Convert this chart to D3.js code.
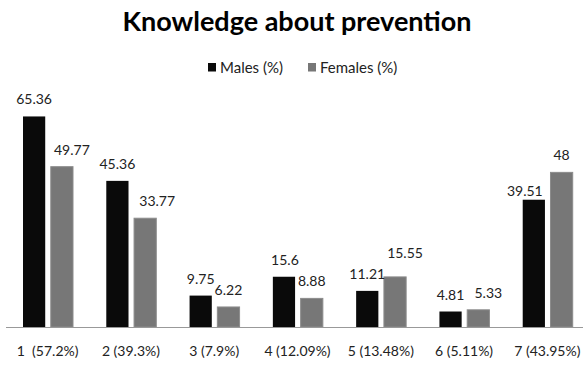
<!DOCTYPE html>
<html>
<head>
<meta charset="utf-8">
<script src="https://cdn.jsdelivr.net/npm/d3@7"></script>
<style>
  html, body { margin: 0; padding: 0; background: #fff; }
  svg { display: block; font-family: Lato, "Open Sans", sans-serif; }
</style>
</head>
<body>
<svg id="chart" width="583" height="365"></svg>
<script>
// Knowledge about prevention, by answer option and sex
const categories = ["1  (57.2%)", "2 (39.3%)", "3 (7.9%)", "4 (12.09%)", "5 (13.48%)", "6 (5.11%)", "7 (43.95%)"];
const males = [65.36, 45.36, 9.75, 15.6, 11.21, 4.81, 39.51];
const females = [49.77, 33.77, 6.22, 8.88, 15.55, 5.33, 48];
const seriesNames = ["Males (%)", "Females (%)"];
const seriesColors = ["#0a0a0a", "#777777"];

const svg = d3.select("#chart");
const baseY = 327;

const x = d3.scaleBand().domain(categories).range([6, 589]).paddingInner(0).paddingOuter(0);
const inner = d3.scaleBand().domain([0, 1]).range([17, 67]).paddingInner(0.2);
const y = d3.scaleLinear().domain([0, 70]).range([baseY, 101.5]);

// hand-placed value labels that would otherwise collide: [dx, dy] keyed by "category index-series"
const labelNudge = {
  "0-1": [10, 0], "1-1": [12, 0], "3-0": [1, 0],
  "4-1": [10, -7], "5-1": [10, 0], "6-0": [-9, 8.5]
};

const rows = categories.map((c, i) => ({ cat: c, i, vals: [males[i], females[i]] }));

const groups = svg.selectAll("g.cat").data(rows).join("g")
  .attr("class", "cat")
  .attr("transform", d => `translate(${x(d.cat)},0)`);

const marks = d => d.vals.map((v, s) => ({ v, s, key: `${d.i}-${s}` }));

groups.selectAll("rect").data(marks).join("rect")
  .attr("x", d => inner(d.s))
  .attr("width", inner.bandwidth())
  .attr("y", d => y(d.v))
  .attr("height", d => baseY - y(d.v))
  .attr("fill", d => seriesColors[d.s])
  .attr("stroke", d => d.s === 1 ? "#8c8c8c" : "none")
  .attr("stroke-width", 1);

groups.selectAll("text.val").data(marks).join("text")
  .attr("class", "val")
  .attr("x", d => inner(d.s) + inner.bandwidth() / 2 + (labelNudge[d.key] || [0, 0])[0])
  .attr("y", d => y(d.v) - 12 + (labelNudge[d.key] || [0, 0])[1])
  .attr("text-anchor", "middle")
  .attr("font-size", 14)
  .attr("fill", "#222")
  .text(d => String(d.v));

// x axis baseline and category labels
const xAxis = d3.axisBottom(x).tickSize(0).tickPadding(0);
const axisG = svg.append("g").attr("transform", `translate(0,${baseY})`).call(xAxis);
axisG.select(".domain").attr("stroke", "#999").attr("d", "M6,0.5H583");
axisG.selectAll(".tick text")
  .attr("dy", 0)
  .attr("y", 29)
  .attr("font-size", 14)
  .attr("font-family", "Lato, sans-serif")
  .attr("fill", "#222")
  .style("white-space", "pre");

// title
svg.append("text")
  .attr("x", 297).attr("y", 31)
  .attr("text-anchor", "middle")
  .attr("font-size", 27)
  .attr("font-weight", "bold")
  .attr("fill", "#000")
  .text("Knowledge about prevention");

// legend
const legendX = [208, 308];
const leg = svg.selectAll("g.leg").data(seriesNames).join("g")
  .attr("class", "leg")
  .attr("transform", (d, i) => `translate(${legendX[i]},63)`);
leg.append("rect").attr("width", 8).attr("height", 8.5).attr("fill", (d, i) => seriesColors[i]);
leg.append("text").attr("x", 12).attr("y", 10)
  .attr("font-size", 15).attr("fill", "#222").text(d => d);
</script>
</body>
</html>
